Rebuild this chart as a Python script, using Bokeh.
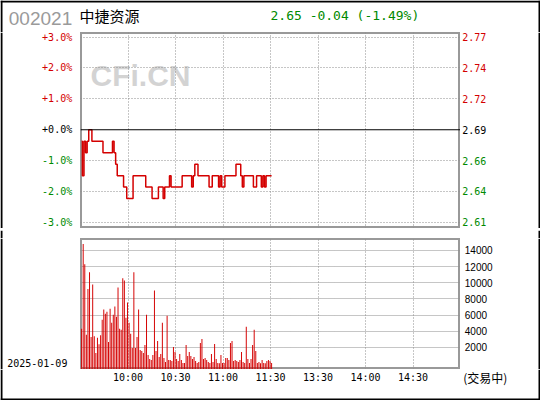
from bokeh.plotting import figure
from bokeh.models import ColumnDataSource, Span, FixedTicker, Range1d, Grid
from bokeh.layouts import column, row
from bokeh.embed import file_html
from bokeh.resources import INLINE
from bokeh.core.properties import value
from bokeh.transform import dodge

# ---------------- data ----------------
stock_code = "002021"
stock_name = "中捷资源"
prev_close = 2.69
last_price = 2.65
change = -0.04
change_pct = -1.49
trade_date = "2025-01-09"
status_text = "(交易中)"

pct_ticks = [3, 2, 1, 0, -1, -2, -3]
time_ticks = [30, 60, 90, 120, 150, 180, 210]
time_labels = ["10:00", "10:30", "11:00", "11:30", "13:30", "14:00", "14:30"]
vol_ticks = [2000, 4000, 6000, 8000, 10000, 12000, 14000]

# one value per minute from 09:30 to 11:30
prices = [
    2.68, 2.65, 2.68, 2.67, 2.68, 2.69, 2.69, 2.68,
    2.68, 2.68, 2.68, 2.68, 2.68, 2.68,
    2.67, 2.67, 2.67, 2.67, 2.67, 2.67,
    2.68, 2.67, 2.66,
    2.65, 2.65, 2.65, 2.65,
    2.64, 2.64,
    2.63, 2.63, 2.63, 2.63,
    2.65, 2.65, 2.65, 2.65, 2.65, 2.65, 2.65, 2.65,
    2.64, 2.64, 2.64, 2.64,
    2.63, 2.63, 2.63, 2.63,
    2.64, 2.64, 2.64,
    2.63,
    2.64, 2.64, 2.64,
    2.65,
    2.64, 2.64, 2.64, 2.64, 2.64, 2.64, 2.64,
    2.65, 2.65, 2.65, 2.65, 2.65, 2.65,
    2.64,
    2.65,
    2.66, 2.66,
    2.65, 2.65, 2.65, 2.65, 2.65, 2.65, 2.65,
    2.64, 2.64,
    2.65, 2.65, 2.65, 2.65,
    2.64, 2.65, 2.64, 2.64,
    2.65, 2.65, 2.65, 2.65, 2.65, 2.65, 2.65,
    2.66, 2.66, 2.66,
    2.65, 2.64,
    2.65, 2.65, 2.65, 2.65, 2.65, 2.65,
    2.64, 2.64,
    2.65, 2.65, 2.65,
    2.64, 2.65, 2.64,
    2.65, 2.65, 2.65, 2.65,
]

volumes = [
    4290, 14790, 12290, 3540, 9210, 11290, 3290, 9790, 3370, 1290,
    3170, 2370, 3500, 5420, 6670, 6170, 6420, 2670, 6790, 5040,
    6040, 7040, 5790, 9420, 4290, 4170, 10540, 10290, 5670, 7540,
    5040, 3670, 1920, 11290, 1920, 3290, 6670, 1670, 1540, 1290,
    2290,
    6040, 1040, 540, 420, 1040, 9040, 1540, 2790, 790, 1170,
    5040, 670, 170, 5920, 420, 420, 290, 2040, 1420, 540,
    290, 1170, 420, 40, 40, 2290, 920, 1420, 920, 540,
    790, 290, 40, 170, 2540, 3040, 540, 670, 420, 170,
    40,
    1170, 170, 2420, 540, 40, 20, 1040, 40, 40, 670,
    670, 420, 2540, 2790, 290, 420, 290, 170, 420, 1420,
    170, 40, 4540, 540, 40, 540, 2290, 4170, 1540, 40,
    170, 20, 420, 40, 20, 290, 420, 290, 40,
]

minutes = list(range(len(prices)))

# ---------------- layout / styles ----------------
RED = "#d40000"
GREEN = "#008a00"
GRID = "#8c8c8c"
FRAME = "#999999"
MONO = "DejaVu Sans Mono"
SANS = "Liberation Sans"
CJK = "Noto Sans CJK SC"

W, SIDE, PW = 540, 80, 380
HEAD_H, PRICE_H, GAP_H, VOL_H, FOOT_H = 32, 196, 10, 131, 31
K = 240 / PW                      # minutes per pixel
vol_bottom, vol_top = -750, 15480
pct_bottom, pct_top = -3.20, 3.15


def strip(w, h, xr, yr):
    f = figure(width=w, height=h, x_range=xr, y_range=yr, output_backend="svg",
               toolbar_location=None, x_axis_location=None, y_axis_location=None,
               min_border=0)
    f.center = []
    f.outline_line_color = None
    f.background_fill_color = "white"
    f.border_fill_color = "white"
    return f


def vborder(f, loc):
    f.add_layout(Span(location=loc, dimension="height", line_color="black", line_width=2))


def hborder(f, loc):
    f.add_layout(Span(location=loc, dimension="width", line_color="black", line_width=2))


pct = [(p / prev_close - 1) * 100 for p in prices]
src = ColumnDataSource(dict(t=minutes, pct=pct, vol=volumes))
x_range = Range1d(0, 240)

# ---------------- header ----------------
head = strip(W, HEAD_H, Range1d(0, W), Range1d(0, HEAD_H))
head.text(x=[8.3], y=[HEAD_H - 17.5], text=[stock_code], text_font=value(SANS),
          text_font_size="19px", text_color="#9a9a9a", text_baseline="middle")
head.text(x=[79], y=[HEAD_H - 14.5], text=[stock_name], text_font=value(CJK),
          text_font_size="15px", text_color="black", text_baseline="middle")
head.text(x=[270], y=[HEAD_H - 15],
          text=[f"{last_price:.2f} {change:+.2f} ({change_pct:+.2f}%)"],
          text_font=value(MONO), text_font_size="13px", text_color=GREEN,
          text_baseline="middle")
vborder(head, 1)
vborder(head, W - 1)
hborder(head, HEAD_H - 1)

# ---------------- price panel ----------------
price = strip(PW, PRICE_H, x_range, Range1d(pct_bottom, pct_top))
price.outline_line_color = FRAME
price.outline_line_width = 3
price.add_layout(Grid(dimension=0, ticker=FixedTicker(ticks=time_ticks),
                      grid_line_color=GRID, grid_line_dash="1 2"))
price.add_layout(Grid(dimension=1, ticker=FixedTicker(ticks=[k for k in pct_ticks if k != 0]),
                      grid_line_color=GRID, grid_line_dash="1 2"))
price.add_layout(Span(location=0, dimension="width", line_color="black", line_width=1.2))
wm = price.text(x=[10 * K], y=[pct_top - 43 * (pct_top - pct_bottom) / PRICE_H],
                text=["CFi.CN"], text_font=value(SANS), text_font_style="bold",
                text_font_size="30px", text_color="#d3d3d3", text_baseline="alphabetic")
wm.level = "image"
price.step(x=dodge("t", 0.7, range=x_range), y="pct", source=src, mode="center",
           line_color=RED, line_width=1.5)

tick_colors = [RED if k > 0 else ("black" if k == 0 else GREEN) for k in pct_ticks]
lab_src = ColumnDataSource(dict(
    y=pct_ticks,
    xl=[SIDE] * len(pct_ticks),
    xr=[0] * len(pct_ticks),
    pct_text=[f"{k:+.1f}%" for k in pct_ticks],
    price_text=[f"{prev_close * (1 + k / 100):.2f}" for k in pct_ticks],
    color=tick_colors,
))
left1 = strip(SIDE, PRICE_H, Range1d(0, SIDE), price.y_range)
left1.text(x="xl", y="y", text="pct_text", source=lab_src, x_offset=-8.3,
           text_align="right", text_baseline="middle", text_font=value(MONO),
           text_font_size="10px", text_color="color")
vborder(left1, 1)
right1 = strip(SIDE, PRICE_H, Range1d(0, SIDE), price.y_range)
right1.text(x="xr", y="y", text="price_text", source=lab_src, x_offset=1.7,
            text_align="left", text_baseline="middle", text_font=value(MONO),
            text_font_size="10px", text_color="color")
vborder(right1, SIDE - 1)

# ---------------- gap ----------------
gap = strip(W, GAP_H, Range1d(0, W), Range1d(0, GAP_H))
vborder(gap, 1)
vborder(gap, W - 1)

# ---------------- volume panel ----------------
vol = strip(PW, VOL_H, x_range, Range1d(vol_bottom, vol_top))
vol.outline_line_color = FRAME
vol.outline_line_width = 3
vol.add_layout(Grid(dimension=0, ticker=FixedTicker(ticks=time_ticks),
                    grid_line_color=GRID, grid_line_dash="1 2"))
vol.add_layout(Grid(dimension=1, ticker=FixedTicker(ticks=vol_ticks),
                    grid_line_color=GRID, grid_line_dash="1 1"))
vol.vbar(x=dodge("t", 0.7, range=x_range), top="vol", bottom=vol_bottom, width=0.62,
         source=src, fill_color=RED, line_color=None)

vlab = ColumnDataSource(dict(y=vol_ticks, x=[0] * len(vol_ticks),
                             text=[str(v) for v in vol_ticks]))
left2 = strip(SIDE, VOL_H, Range1d(0, SIDE), vol.y_range)
left2.text(x=[6.7], y=[vol_bottom + 6.5 * (vol_top - vol_bottom) / VOL_H], text=[trade_date],
           text_font=value(MONO), text_font_size="10px", text_color="black",
           text_baseline="middle")
vborder(left2, 1)
right2 = strip(SIDE, VOL_H, Range1d(0, SIDE), vol.y_range)
right2.text(x="x", y="y", text="text", source=vlab, x_offset=4.3, text_align="left",
            text_baseline="middle", text_font=value(SANS), text_font_size="10px",
            text_color="black")
vborder(right2, SIDE - 1)

# ---------------- footer (time labels) ----------------
foot = strip(W, FOOT_H, Range1d(-SIDE * K, 240 + SIDE * K), Range1d(0, FOOT_H))
tlab = ColumnDataSource(dict(x=time_ticks, y=[FOOT_H - 7.7] * len(time_ticks), text=time_labels))
foot.text(x="x", y="y", text="text", source=tlab, text_align="center",
          text_baseline="middle", text_font=value(MONO), text_font_size="10px",
          text_color="black")
foot.text(x=[240 + 2.7 * K], y=[FOOT_H - 7.7], text=[status_text], text_font=value(CJK),
          text_font_size="12px", text_color="black", text_baseline="middle")
vborder(foot, -SIDE * K + K)
vborder(foot, 240 + SIDE * K - K)
hborder(foot, 1)

layout = column(
    head,
    row(left1, price, right1, spacing=0),
    gap,
    row(left2, vol, right2, spacing=0),
    foot,
    spacing=0,
)
open("out.html", "w").write(file_html(layout, INLINE))
